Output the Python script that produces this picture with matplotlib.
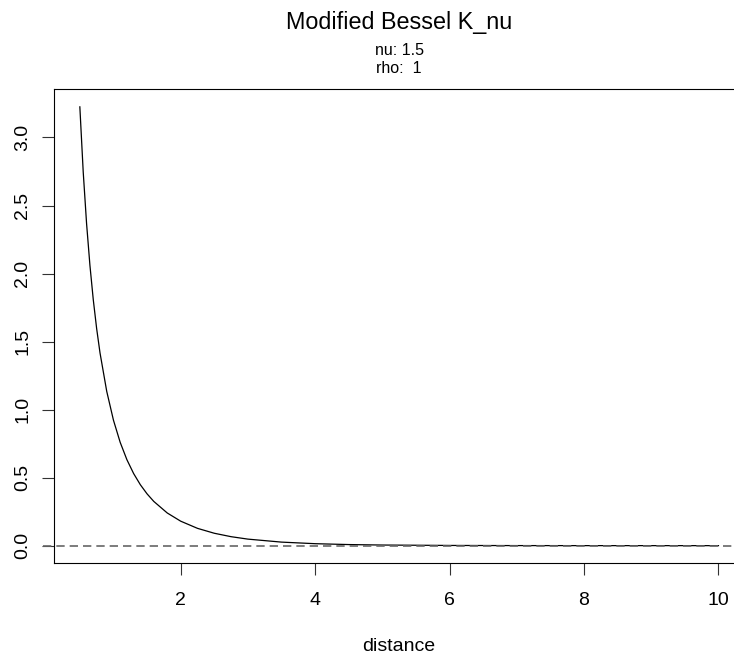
import matplotlib.pyplot as plt

# values (distance vs K_nu)
distance = [0.5, 0.55, 0.6, 0.65, 0.7, 0.75, 0.8, 0.9, 1.0, 1.1, 1.2, 1.3, 1.4, 1.5,
            1.6, 1.8, 2.0, 2.25, 2.5, 2.75, 3.0, 3.5, 4.0, 4.5, 5.0, 6.0, 7.0, 8.0, 9.0, 10.0]
k_nu = [3.2251, 2.7478, 2.3680, 2.0601, 1.8066, 1.5951, 1.4167, 1.1339, 0.9221, 0.7594,
        0.6318, 0.5300, 0.4478, 0.3806, 0.3251, 0.2402, 0.1799, 0.1272, 0.0911, 0.0659,
        0.0480, 0.0260, 0.0144, 0.0080, 0.0045, 0.0015, 0.0005, 0.0002, 0.0001, 0.00002]
y_ticks = [0.0, 0.5, 1.0, 1.5, 2.0, 2.5, 3.0]
x_ticks = [2, 4, 6, 8, 10]

plt.rcParams['font.family'] = ['Liberation Sans', 'DejaVu Sans']

W, H = 734, 655
fig = plt.figure(figsize=(W / 100, H / 100), dpi=100)
left, right, top, bottom = 54.3, 744, 89.3, 563.2
ax = fig.add_axes([left / W, (H - bottom) / H, (right - left) / W, (bottom - top) / H])

ax.plot(distance, k_nu, color='black', linewidth=0.9)
# dashed zero line, runs slightly past the left edge as in the original
ax.plot([-0.0164, 1.0], [0, 0], transform=ax.get_yaxis_transform(), clip_on=False,
        color='#666666', linewidth=1.2, linestyle=(0, (5, 3)))

# R style 4% padding
xr = max(distance) - min(distance)
yr = max(k_nu) - min(k_nu)
ax.set_xlim(min(distance) - 0.04 * xr, max(distance) + 0.04 * xr)
ax.set_ylim(min(k_nu) - 0.04 * yr, max(k_nu) + 0.04 * yr)

ax.set_xticks(x_ticks)
ax.set_xticklabels([str(t) for t in x_ticks])
ax.set_yticks(y_ticks)
ax.set_yticklabels(['%.1f' % t for t in y_ticks], rotation=90, va='center')
ax.tick_params(direction='out', length=8.6, width=0.8, labelsize=14, color='#333333')
ax.tick_params(axis='x', pad=12)
ax.tick_params(axis='y', pad=8)
for s in ax.spines.values():
    s.set_linewidth(0.8)

ax.set_xlabel('distance', fontsize=14, labelpad=21)

cx = (left + right) / 2 / W
fig.text(cx, 1 - 28.5 / H, 'Modified Bessel K_nu', ha='center', va='baseline', fontsize=16.8)
fig.text(cx, 1 - 55 / H, 'nu: 1.5', ha='center', va='baseline', fontsize=11.5)
fig.text(cx, 1 - 73.3 / H, 'rho:  1', ha='center', va='baseline', fontsize=11.5)

fig.savefig('out.png', dpi=100)
